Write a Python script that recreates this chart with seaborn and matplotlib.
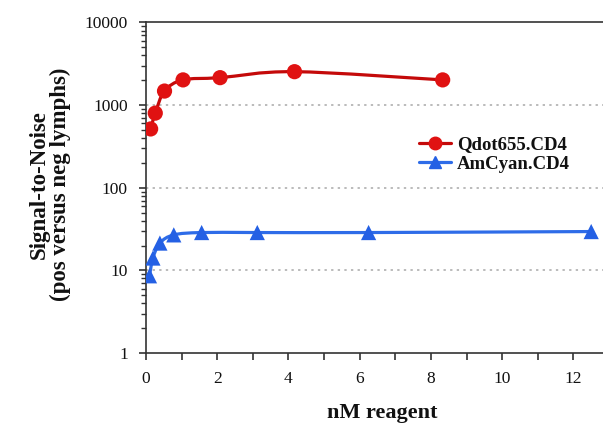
import numpy as np
import pandas as pd
import matplotlib
matplotlib.use("Agg")
import matplotlib.pyplot as plt
from matplotlib.path import Path
from matplotlib.patches import PathPatch
from matplotlib.lines import Line2D
from matplotlib.ticker import LogLocator, FixedLocator, NullFormatter
import seaborn as sns

# Titration series: reagent concentration (nM) vs signal-to-noise
qdot_nm = [0.13, 0.26, 0.52, 1.04, 2.08, 4.17, 8.33]
qdot_sn = [515, 800, 1480, 2020, 2150, 2540, 2020]
amcyan_nm = [0.098, 0.195, 0.39, 0.78, 1.5625, 3.125, 6.25, 12.5]
amcyan_sn = [8.6, 14.1, 21.4, 26.9, 28.7, 28.7, 28.7, 29.5]

series_names = ["Qdot655.CD4", "AmCyan.CD4"]
marker_colors = ["#E01212", "#2460E4"]
line_colors = ["#C40A0A", "#2E6CE8"]
series_markers = ["o", "^"]

x_ticks = [0, 2, 4, 6, 8, 10, 12]
y_ticks = [1, 10, 100, 1000, 10000]

sns.set_theme(style="ticks")
plt.rcParams["font.family"] = ["Liberation Serif", "DejaVu Serif"]

df = pd.concat([
    pd.DataFrame({"nM": qdot_nm, "sn": qdot_sn, "reagent": series_names[0]}),
    pd.DataFrame({"nM": amcyan_nm, "sn": amcyan_sn, "reagent": series_names[1]}),
], ignore_index=True)

fig = plt.figure(figsize=(6.03, 4.26), dpi=100)
ax = fig.add_axes([146 / 603, 1 - 353 / 426, 463 / 603, 330.5 / 426])
ax.set_yscale("log")
ax.set_xlim(0, 13)
ax.set_ylim(1, 10000)


def smooth_path(x, y):
    """Catmull-Rom style cubic Bezier through the points, built in (x, log y)."""
    pts = np.column_stack([np.asarray(x, float), np.log10(np.asarray(y, float))])
    n = len(pts)
    verts = [pts[0]]
    codes = [Path.MOVETO]
    for i in range(n - 1):
        p0 = pts[i - 1] if i > 0 else pts[i]
        p1 = pts[i]
        p2 = pts[i + 1]
        p3 = pts[i + 2] if i + 2 < n else pts[i + 1]
        c1 = p1 + (p2 - p0) / 6.0
        c2 = p2 - (p3 - p1) / 6.0
        verts += [c1, c2, p2]
        codes += [Path.CURVE4] * 3
    verts = np.array(verts)
    verts[:, 1] = 10 ** verts[:, 1]
    return Path(verts, codes)


for name, color in zip(series_names, line_colors):
    sub = df[df["reagent"] == name]
    patch = PathPatch(smooth_path(sub["nM"], sub["sn"]), facecolor="none",
                      edgecolor=color, lw=2.3, transform=ax.transData, zorder=3)
    ax.add_patch(patch)

sns.scatterplot(data=df, x="nM", y="sn", hue="reagent", style="reagent",
                palette=dict(zip(series_names, marker_colors)),
                markers=dict(zip(series_names, series_markers)),
                s=120, edgecolor="none", linewidth=0, legend=False,
                ax=ax, zorder=4)

# Axis styling
ax.xaxis.set_major_locator(FixedLocator(x_ticks))
ax.xaxis.set_minor_locator(FixedLocator([1, 3, 5, 7, 9, 11, 13]))
ax.yaxis.set_major_locator(FixedLocator(y_ticks))
ax.yaxis.set_minor_locator(LogLocator(base=10, subs=np.arange(2, 10)))
ax.yaxis.set_minor_formatter(NullFormatter())
ax.set_yticklabels([str(v) for v in y_ticks])
ax.set_xticklabels([str(v) for v in x_ticks])

ax.tick_params(axis="both", which="major", direction="out", length=5, width=1.2,
               color="#333333", labelsize=12.5, labelcolor="#111111")
ax.tick_params(axis="y", which="major", pad=8)
ax.tick_params(axis="x", which="major", pad=8)
ax.tick_params(axis="x", which="minor", direction="out", length=5, width=1.2, color="#333333")
ax.tick_params(axis="y", which="minor", direction="out", length=3.5, width=1.0, color="#333333")

for side in ["left", "bottom", "top", "right"]:
    ax.spines[side].set_visible(True)
    ax.spines[side].set_color("#333333")
    ax.spines[side].set_linewidth(1.2)

# Dotted horizontal grid at the decades
for v in [10, 100, 1000]:
    ax.axhline(v, color="#BBBBBB", lw=1.4, ls=(0, (1.2, 2.2)), zorder=1)

ax.set_xlabel("nM reagent", fontsize=16, fontweight="bold", color="#111111")
ax.xaxis.label.set_va("center")
ax.xaxis.set_label_coords((382 - 146) / 463, (353 - 413) / 330.5)
ax.set_ylabel("Signal-to-Noise\n(pos versus neg lymphs)", fontsize=16.5,
              fontweight="bold", color="#111111", linespacing=1.0)
ax.yaxis.label.set_va("center")
ax.yaxis.set_label_coords((50 - 146) / 463, 0.51)

handles = [Line2D([], [], color=lc, lw=2.3, marker=m, markersize=9,
                  markerfacecolor=mc, markeredgecolor=mc)
           for lc, mc, m in zip(line_colors, marker_colors, series_markers)]
leg = fig.legend(handles, series_names, loc="upper left",
                 bbox_to_anchor=(410 / 603, 1 - 127 / 426), frameon=False,
                 borderpad=0, handlelength=1.7, handletextpad=0.3,
                 labelspacing=0.12, prop={"weight": "bold", "size": 13.5})
for t in leg.get_texts():
    t.set_color("#111111")

fig.savefig("out.png", dpi=100)
